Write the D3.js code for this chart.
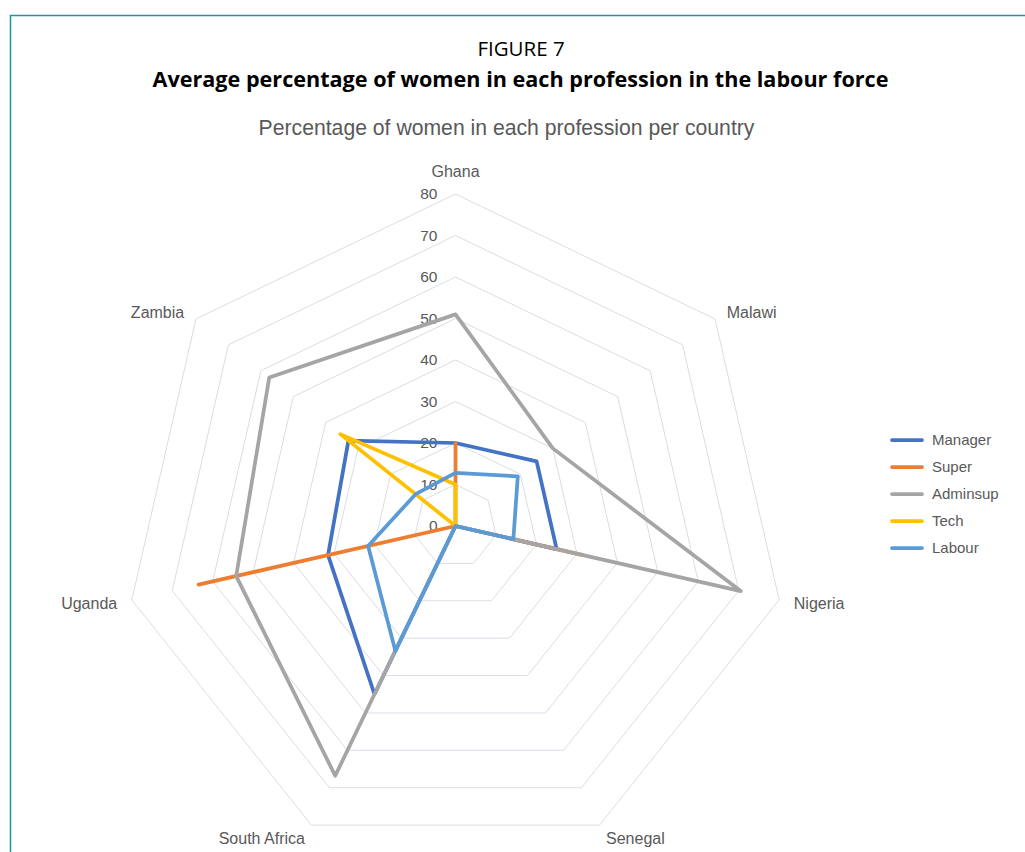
<!DOCTYPE html>
<html>
<head>
<meta charset="utf-8">
<script src="https://cdn.jsdelivr.net/npm/d3@7/dist/d3.min.js"></script>
<style>
  html, body { margin: 0; padding: 0; background: #fff; }
  svg { display: block; }
</style>
</head>
<body>
<svg id="chart" width="1025" height="852"></svg>
<script>
// Countries around the radar, clockwise from the top
const countries = ["Ghana", "Malawi", "Nigeria", "Senegal", "South Africa", "Uganda", "Zambia"];

// Percentage of women per profession, one value per country
const manager  = [20, 25, 25, 0, 45, 31.5, 33];
const superv   = [20, 0, 31.5, 0, 0, 63.5, 0];
const adminsup = [51, 30, 70.5, 0, 66.8, 54.2, 57.4];
const tech     = [10, 0, 0, 0, 0, 0, 35.5];
const labour   = [12.8, 19.2, 14.3, 0, 33.4, 21.6, 12.3];

const seriesNames  = ["Manager", "Super", "Adminsup", "Tech", "Labour"];
const seriesValues = [manager, superv, adminsup, tech, labour];
const seriesColors = ["#4472C4", "#ED7D31", "#A5A5A5", "#FFC000", "#5B9BD5"];

const tickValues = [0, 10, 20, 30, 40, 50, 60, 70, 80];

const svg = d3.select("#chart");

// Frame around the figure
svg.append("path")
  .attr("d", "M1030,15.5 H10.5 V860")
  .attr("fill", "none")
  .attr("stroke", "#16999a")
  .attr("stroke-width", 1.5);

// Titles
svg.append("text")
  .attr("x", 521).attr("y", 56)
  .attr("text-anchor", "middle")
  .attr("font-family", "'Open Sans', sans-serif")
  .attr("font-size", 20.5)
  .attr("fill", "#000")
  .text("FIGURE 7");

svg.append("text")
  .attr("x", 520.5).attr("y", 87)
  .attr("text-anchor", "middle")
  .attr("font-family", "'Open Sans', sans-serif")
  .attr("font-weight", "bold")
  .attr("font-size", 21.6)
  .attr("fill", "#000")
  .text("Average percentage of women in each profession in the labour force");

svg.append("text")
  .attr("x", 506.5).attr("y", 135)
  .attr("text-anchor", "middle")
  .attr("font-family", "'Liberation Sans', Arial, sans-serif")
  .attr("font-size", 21.2)
  .attr("fill", "#595959")
  .text("Percentage of women in each profession per country");

// Radar geometry
const cx = 455.5, cy = 526;
const r = d3.scaleLinear().domain([0, 80]).range([0, 332]);
const angle = d3.scalePoint().domain(countries).range([0, 2 * Math.PI * (countries.length - 1) / countries.length]);

const g = svg.append("g").attr("transform", `translate(${cx},${cy})`);

// Polygon grid rings
const ringLine = d3.lineRadial()
  .angle(d => angle(d.c))
  .radius(d => r(d.v))
  .curve(d3.curveLinearClosed);

g.append("g").selectAll("path")
  .data(tickValues.filter(t => t > 0))
  .join("path")
  .attr("d", t => ringLine(countries.map(c => ({ c, v: t }))))
  .attr("fill", "none")
  .attr("stroke", "#d9dde4")
  .attr("stroke-width", 1);

// Value labels along the top axis
g.append("g").selectAll("text")
  .data(tickValues)
  .join("text")
  .attr("x", -18)
  .attr("y", t => -r(t))
  .attr("dy", "0.35em")
  .attr("text-anchor", "end")
  .attr("font-family", "'Liberation Sans', Arial, sans-serif")
  .attr("font-size", 15.5)
  .attr("fill", "#595959")
  .text(t => t);

// Country labels
g.append("g").selectAll("text")
  .data(countries)
  .join("text")
  .each(function (c) {
    const a = angle(c);
    const s = Math.sin(a), k = -Math.cos(a);
    const el = d3.select(this);
    if (Math.abs(s) < 0.01) {
      el.attr("x", 0).attr("y", -r(80) - 23).attr("dy", "0.35em").attr("text-anchor", "middle");
    } else {
      const rr = r(80) + 15;
      el.attr("x", rr * s).attr("y", rr * k + (k < -0.5 ? 3 : 0)).attr("dy", "0.35em")
        .attr("text-anchor", s > 0 ? "start" : "end");
    }
  })
  .attr("font-family", "'Liberation Sans', Arial, sans-serif")
  .attr("font-size", 16)
  .attr("fill", "#595959")
  .text(c => c);

// Series outlines
const seriesLine = d3.lineRadial()
  .angle((d, i) => angle(countries[i]))
  .radius(d => r(d))
  .curve(d3.curveLinearClosed);

g.append("g").selectAll("path")
  .data(seriesValues)
  .join("path")
  .attr("d", d => seriesLine(d))
  .attr("fill", "none")
  .attr("stroke", (d, i) => seriesColors[i])
  .attr("stroke-width", 3.75)
  .attr("stroke-linejoin", "round")
  .attr("stroke-linecap", "round");

// Legend
const legend = svg.append("g").attr("transform", "translate(891,440)");
const item = legend.selectAll("g")
  .data(seriesNames)
  .join("g")
  .attr("transform", (d, i) => `translate(0,${i * 27})`);

item.append("line")
  .attr("x1", 1).attr("x2", 31).attr("y1", 0).attr("y2", 0)
  .attr("stroke", (d, i) => seriesColors[i])
  .attr("stroke-width", 3.75)
  .attr("stroke-linecap", "round");

item.append("text")
  .attr("x", 41).attr("y", 0).attr("dy", "0.35em")
  .attr("font-family", "'Liberation Sans', Arial, sans-serif")
  .attr("font-size", 15)
  .attr("fill", "#595959")
  .text(d => d);
</script>
</body>
</html>
